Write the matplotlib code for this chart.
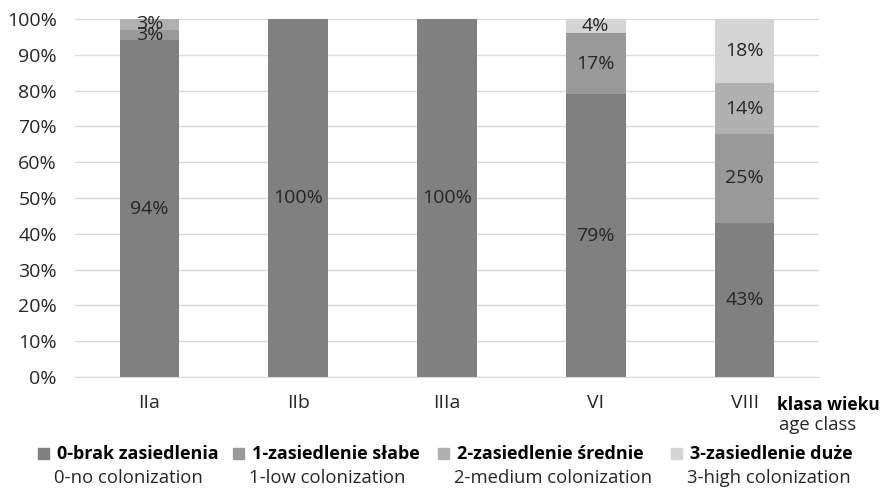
import matplotlib
matplotlib.use("Agg")
import matplotlib.pyplot as plt
from matplotlib.patches import Rectangle
import numpy as np

plt.rcParams['font.family'] = ['Open Sans', 'DejaVu Sans']

categories = ["IIa", "IIb", "IIIa", "VI", "VIII"]
series_pl = ["0-brak zasiedlenia", "1-zasiedlenie słabe", "2-zasiedlenie średnie", "3-zasiedlenie duże"]
series_en = ["0-no colonization", "1-low colonization", "2-medium colonization", "3-high colonization"]
no_col = [94, 100, 100, 79, 43]
low_col = [3, 0, 0, 17, 25]
medium_col = [3, 0, 0, 0, 14]
high_col = [0, 0, 0, 4, 18]
colors = ["#808080", "#999999", "#b0b0b0", "#d4d4d4"]

values = [no_col, low_col, medium_col, high_col]
FS = 14       # tick and value labels
FS_BOLD = 13  # bold legend / axis title
FS_EN = 13.3  # english legend labels

fig = plt.figure(figsize=(8.82, 4.88), dpi=100)
ax = fig.add_axes([75/882, 1 - 377/488, (819 - 75)/882, (377 - 19)/488])

x = np.arange(len(categories))
bottom = np.zeros(len(categories))
for vals, col in zip(values, colors):
    vals = np.array(vals, dtype=float)
    ax.bar(x, vals, width=0.4, bottom=bottom, color=col, zorder=2)
    for xi, v, b in zip(x, vals, bottom):
        if v > 0:
            ax.text(xi, b + v / 2, f"{int(v)}%", ha="center", va="center",
                    fontsize=FS, color="#262626", zorder=3)
    bottom += vals

ax.set_xlim(-0.5, len(categories) - 0.5)
ax.set_ylim(0, 100)
ax.set_yticks(np.arange(0, 101, 10))
ax.set_yticklabels([f"{t}%" for t in range(0, 101, 10)])
ax.set_xticks(x)
ax.set_xticklabels(categories)
ax.tick_params(axis="both", length=0, labelsize=FS, colors="#262626")
ax.tick_params(axis="x", pad=12)
ax.tick_params(axis="y", pad=13)
ax.grid(axis="y", color="#d9d9d9", linewidth=1, zorder=0)
for s in ["top", "right", "left"]:
    ax.spines[s].set_visible(False)
ax.spines["bottom"].set_color("#d9d9d9")

fig.text(880/882, 1 - 405/488, "klasa wieku", ha="right", va="center",
         fontsize=12.5, fontweight="bold", color="#000000")
fig.text(818/882, 1 - 425/488, "age class", ha="center", va="center",
         fontsize=FS_EN, color="#262626")

legend_x = [38, 233, 438, 671]
for lx, name_pl, name_en, col in zip(legend_x, series_pl, series_en, colors):
    fig.patches.append(Rectangle((lx/882, 1 - 459/488), 11/882, 11/488,
                                 transform=fig.transFigure, color=col))
    fig.text((lx + 19)/882, 1 - 454/488, name_pl, ha="left", va="center",
             fontsize=FS_BOLD, fontweight="bold", color="#000000")
    fig.text((lx + 16)/882, 1 - 478/488, name_en, ha="left", va="center",
             fontsize=FS_EN, color="#262626")

fig.savefig("out.png", dpi=100)
